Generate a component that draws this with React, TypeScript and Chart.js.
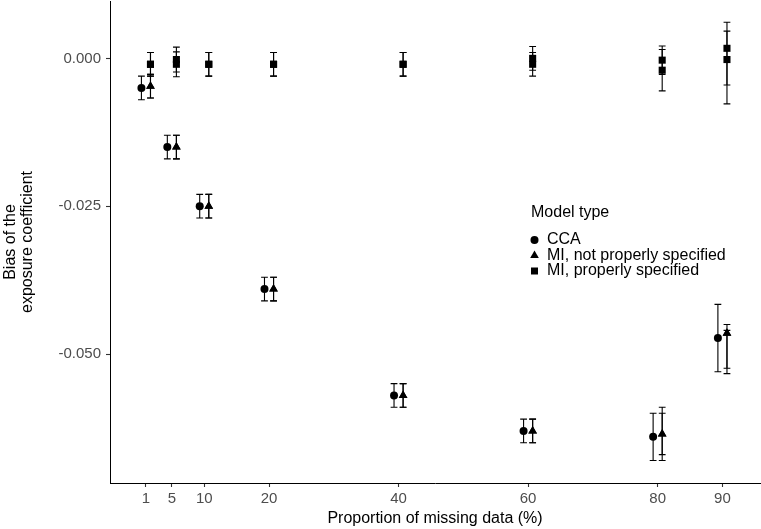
import React, { useEffect, useRef } from "react";
import { Chart, registerables } from "chart.js";

Chart.register(...registerables);

// ---- data ----
const proportions = [1, 5, 10, 20, 40, 60, 80, 90];
const xTickValues = [1, 5, 10, 20, 40, 60, 80, 90];
const yTickValues = [0, -0.025, -0.05];

// CCA (circle)
const ccaBias = [-0.005, -0.015, -0.025, -0.039, -0.057, -0.063, -0.064, -0.0473];
const ccaLower = [-0.007, -0.017, -0.027, -0.041, -0.059, -0.065, -0.068, -0.053];
const ccaUpper = [-0.003, -0.013, -0.023, -0.037, -0.055, -0.061, -0.06, -0.0416];

// MI, not properly specified (triangle) - two overlapping estimates
const miNotBiasA = [-0.0047, -0.015, -0.025, -0.039, -0.057, -0.063, -0.0635, -0.0465];
const miNotLowerA = [-0.0067, -0.017, -0.027, -0.041, -0.059, -0.065, -0.068, -0.0533];
const miNotUpperA = [-0.0027, -0.013, -0.023, -0.037, -0.055, -0.061, -0.059, -0.045];
const miNotBiasB = [-0.0047, -0.015, -0.025, -0.039, -0.057, -0.063, -0.0635, -0.0465];
const miNotLowerB = [-0.0067, -0.017, -0.027, -0.041, -0.059, -0.065, -0.067, -0.0524];
const miNotUpperB = [-0.0027, -0.013, -0.023, -0.037, -0.055, -0.061, -0.06, -0.046];

// MI, properly specified (square) - two overlapping estimates
const miProBiasA = [-0.001, -0.0002, -0.001, -0.001, -0.001, 0.0, -0.0003, 0.0017];
const miProLowerA = [-0.003, -0.0023, -0.003, -0.003, -0.003, -0.002, -0.0027, -0.0045];
const miProUpperA = [0.001, 0.0019, 0.001, 0.001, 0.001, 0.002, 0.0021, 0.0061];
const miProBiasB = [-0.001, -0.001, -0.001, -0.001, -0.001, -0.001, -0.002, -0.0002];
const miProLowerB = [-0.003, -0.0031, -0.003, -0.003, -0.003, -0.003, -0.0055, -0.0077];
const miProUpperB = [0.001, 0.0011, 0.001, 0.001, 0.001, 0.001, 0.0015, 0.0046];

const dodgeWidth = 0.7;
const FONT = "'Liberation Sans', Arial, Helvetica, sans-serif";

type Pt = { x: number; y: number; lo: number; hi: number };

function buildPoints(bias: number[], lower: number[], upper: number[], offset: number): Pt[] {
  return proportions.map((p, i) => ({
    x: p + offset,
    y: bias[i],
    lo: lower[i],
    hi: upper[i],
  }));
}

const errorBarPlugin = {
  id: "errorBars",
  beforeDatasetsDraw(chart: any) {
    const ctx = chart.ctx;
    const xs = chart.scales.x;
    const ys = chart.scales.y;
    ctx.save();
    ctx.strokeStyle = "#000";
    ctx.lineWidth = 1.1;
    chart.data.datasets.forEach((ds: any) => {
      ds.data.forEach((p: Pt) => {
        const px = xs.getPixelForValue(p.x);
        const top = ys.getPixelForValue(p.hi);
        const bot = ys.getPixelForValue(p.lo);
        const cw = 3.4;
        ctx.beginPath();
        ctx.moveTo(px, top);
        ctx.lineTo(px, bot);
        ctx.moveTo(px - cw, top);
        ctx.lineTo(px + cw, top);
        ctx.moveTo(px - cw, bot);
        ctx.lineTo(px + cw, bot);
        ctx.stroke();
      });
    });
    ctx.restore();
  },
};

const legendTitle = "Model type";
const legendLabels = ["CCA", "MI, not properly specified", "MI, properly specified"];
const legendShapes = ["circle", "triangle", "rect"];

const legendPlugin = {
  id: "insideLegend",
  afterDraw(chart: any) {
    const ctx = chart.ctx;
    ctx.save();
    ctx.fillStyle = "#000";
    ctx.textBaseline = "middle";
    ctx.textAlign = "left";
    ctx.font = `16px ${FONT}`;
    ctx.fillText(legendTitle, 531, 213);
    const ys = [240, 255.5, 271];
    legendLabels.forEach((lab, i) => {
      const mx = 534.5;
      const my = ys[i];
      ctx.beginPath();
      if (legendShapes[i] === "circle") {
        ctx.arc(mx, my, 4, 0, Math.PI * 2);
      } else if (legendShapes[i] === "triangle") {
        const r = 5;
        ctx.moveTo(mx, my - r);
        ctx.lineTo(mx + r * Math.sin((2 * Math.PI) / 3), my + r / 2);
        ctx.lineTo(mx - r * Math.sin((2 * Math.PI) / 3), my + r / 2);
        ctx.closePath();
      } else {
        const s = 3.5;
        ctx.rect(mx - s, my - s, 2 * s, 2 * s);
      }
      ctx.fill();
      ctx.font = `16px ${FONT}`;
      ctx.fillText(lab, 547, my);
    });
    ctx.restore();
  },
};

export default function App() {
  const ref = useRef<HTMLCanvasElement | null>(null);

  useEffect(() => {
    if (!ref.current) return;
    const common = {
      backgroundColor: "#000",
      borderColor: "#000",
      borderWidth: 0,
      showLine: false,
    };
    const chart = new Chart(ref.current, {
      type: "scatter",
      data: {
        datasets: [
          { ...common, label: "MI, properly specified A", data: buildPoints(miProBiasA, miProLowerA, miProUpperA, dodgeWidth), pointStyle: "rect", pointRadius: 5 },
          { ...common, label: "MI, properly specified B", data: buildPoints(miProBiasB, miProLowerB, miProUpperB, dodgeWidth), pointStyle: "rect", pointRadius: 5 },
          { ...common, label: "CCA", data: buildPoints(ccaBias, ccaLower, ccaUpper, -dodgeWidth), pointStyle: "circle", pointRadius: 4 },
          { ...common, label: "MI, not properly specified A", data: buildPoints(miNotBiasA, miNotLowerA, miNotUpperA, dodgeWidth), pointStyle: "triangle", pointRadius: 5 },
          { ...common, label: "MI, not properly specified B", data: buildPoints(miNotBiasB, miNotLowerB, miNotUpperB, dodgeWidth), pointStyle: "triangle", pointRadius: 5 },
        ] as any,
      },
      options: {
        animation: false,
        responsive: false,
        devicePixelRatio: 1,
        layout: { autoPadding: false, padding: { left: 0, right: 1, top: 1, bottom: 0 } },
        plugins: {
          legend: { display: false },
          tooltip: { enabled: false },
        },
        scales: {
          x: {
            type: "linear",
            min: -4.55,
            max: 95.8,
            afterBuildTicks: (s: any) => {
              s.ticks = xTickValues.map((v) => ({ value: v }));
            },
            afterFit: (s: any) => {
              s.height = 46;
              s.paddingLeft = 0;
              s.paddingRight = 0;
            },
            grid: { display: true, drawOnChartArea: false, drawTicks: true, tickLength: 4, tickColor: "#333", tickWidth: 1.1 },
            border: { display: true, color: "#000", width: 1 },
            ticks: {
              color: "#4d4d4d",
              font: { family: FONT, size: 15 },
              padding: 3,
              maxRotation: 0,
              autoSkip: false,
              callback: (v: any) => String(v),
            },
            title: {
              display: true,
              text: "Proportion of missing data (%)",
              color: "#000",
              font: { family: FONT, size: 16, lineHeight: 1.05 },
              padding: { top: 2, bottom: 2.5 },
            },
          },
          y: {
            type: "linear",
            min: -0.0718,
            max: 0.0097,
            afterBuildTicks: (s: any) => {
              s.ticks = yTickValues.map((v) => ({ value: v }));
            },
            afterFit: (s: any) => {
              s.width = 110;
              s.paddingTop = 0;
              s.paddingBottom = 0;
            },
            grid: { display: true, drawOnChartArea: false, drawTicks: true, tickLength: 4, tickColor: "#333", tickWidth: 1.1 },
            border: { display: true, color: "#000", width: 1 },
            ticks: {
              color: "#4d4d4d",
              font: { family: FONT, size: 15 },
              padding: 5,
              autoSkip: false,
              callback: (v: any) => Number(v).toFixed(3),
            },
            title: {
              display: true,
              text: ["Bias of the", "exposure coefficient"],
              color: "#000",
              font: { family: FONT, size: 16, lineHeight: 1.05 },
              padding: { top: 2, bottom: 0 },
            },
          },
        },
      } as any,
      plugins: [errorBarPlugin, legendPlugin],
    });
    return () => chart.destroy();
  }, []);

  return (
    <div style={{ position: "absolute", left: 0, top: 0, width: 761, height: 529, background: "#fff" }}>
      <canvas ref={ref} width={761} height={529} style={{ display: "block" }} />
    </div>
  );
}
